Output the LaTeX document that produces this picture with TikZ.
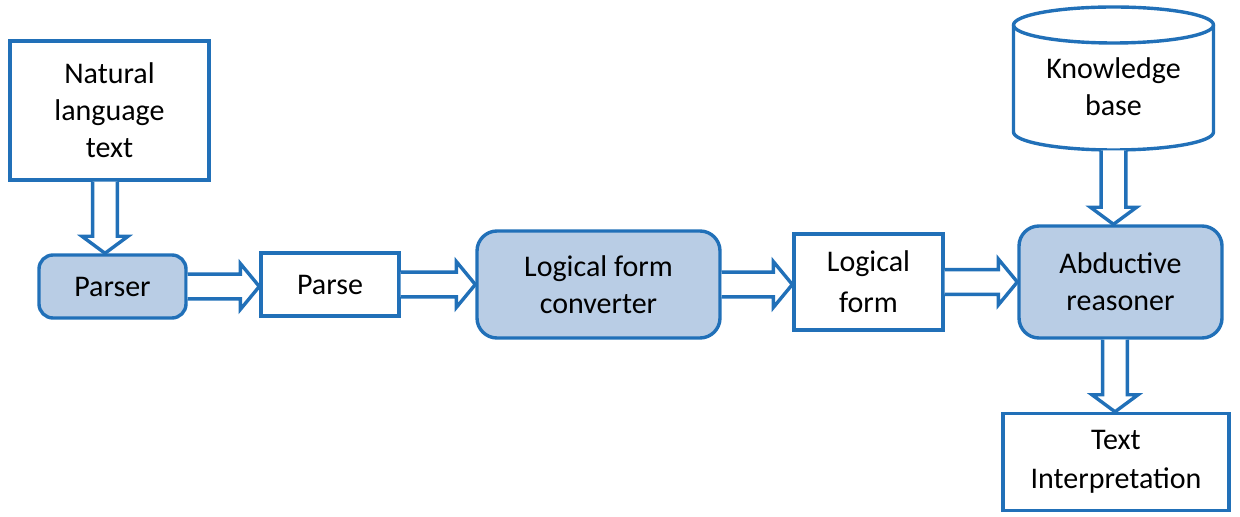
\documentclass[tikz,border=0pt]{standalone}
\usepackage{fontspec}
\setmainfont{Carlito}
\usetikzlibrary{calc}
\definecolor{bblue}{HTML}{2170B8}
\definecolor{lblue}{HTML}{B9CDE5}
\tikzset{
 box/.style={draw=bblue, line width=1.7pt, fill=white, align=center, inner sep=0pt, font=\fontsize{15}{18.5}\selectfont},
 rbox/.style={box, fill=lblue, rounded corners=#1},
 rbox/.default=7pt,
 barrow/.style={draw=bblue, line width=1.7pt, fill=white, line join=miter},
}
\newcommand\harrow[2]{\draw[barrow] let \p1=(#1), \p2=(#2) in
  (\x1,\y1+6.2pt) -- (\x2-9.5pt,\y1+6.2pt) -- (\x2-9.5pt,\y1+11.5pt) -- (\x2,\y1)
  -- (\x2-9.5pt,\y1-11.5pt) -- (\x2-9.5pt,\y1-6.2pt) -- (\x1,\y1-6.2pt);}
\newcommand\varrow[2]{\draw[barrow] let \p1=(#1), \p2=(#2) in
  (\x1-6.2pt,\y1) -- (\x1-6.2pt,\y2+8.5pt) -- (\x1-11.5pt,\y2+8.5pt) -- (\x1,\y2)
  -- (\x1+11.5pt,\y2+8.5pt) -- (\x1+6.2pt,\y2+8.5pt) -- (\x1+6.2pt,\y1);}
\begin{document}
\begin{tikzpicture}[x=0.5pt,y=-0.5pt]
\useasboundingbox (0,0) rectangle (1240,517);
% nodes
\node[box, minimum width=99.5pt, minimum height=69.5pt] (nlt) at (109.5,110.5) {Natural\\language\\text};
\node[rbox, minimum width=73.5pt, minimum height=31.5pt] (parser) at (112.5,286.5) {Parser};
\node[box, minimum width=69pt, minimum height=31.5pt] (parse) at (330,284.5) {Parse};
\node[rbox=10pt, minimum width=121.5pt, minimum height=53.5pt] (lfc) at (598.5,284.5) {Logical form\\converter};
\node[box, minimum width=74.5pt, minimum height=48pt] (lf) at (868.5,282) {Logical\\[2pt]form};
\node[rbox=10pt, minimum width=101.5pt, minimum height=56pt] (ar) at (1120.5,282) {Abductive\\reasoner};
\node[box, minimum width=113pt, minimum height=48.5pt] (ti) at (1116,462) {\raisebox{0pt}{Text}\\[1pt]Interpretation};
% knowledge base cylinder
\draw[bblue, line width=1.7pt, fill=white]
  (1013.5,25) -- (1013.5,132) arc[start angle=180, end angle=360, x radius=100, y radius=-18]
  -- (1213.5,25) arc[start angle=0, end angle=180, x radius=100, y radius=-18];
\draw[bblue, line width=1.7pt] (1013.5,25) arc[start angle=180, end angle=360, x radius=100, y radius=-18];
\node[font=\fontsize{15}{18.5}\selectfont, align=center, inner sep=0pt] (kb) at (1113.5,87) {Knowledge\\base};
\coordinate (kbbot) at (1113.5,150.5);
% connectors
\varrow{$(nlt.south)+(-4.5,0)$}{parser.north}
\harrow{parser.east}{parse.west}
\harrow{parse.east}{lfc.west}
\harrow{lfc.east}{lf.west}
\harrow{lf.east}{ar.west}
\varrow{kbbot}{ar.north}
\varrow{$(ar.south)+(-5.5,0)$}{ti.north}
\end{tikzpicture}
\end{document}
